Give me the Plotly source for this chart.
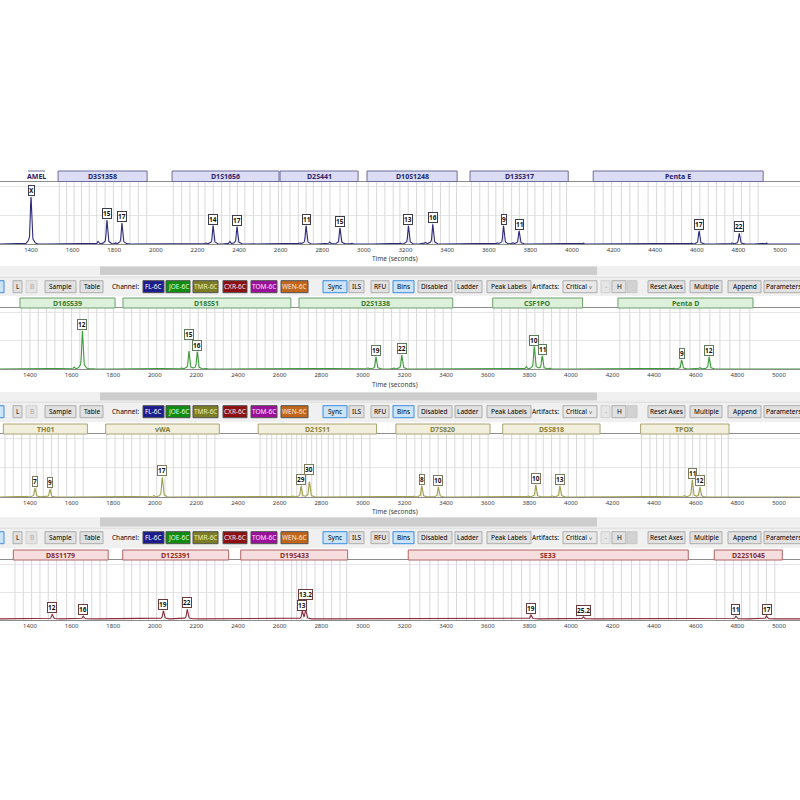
import numpy as np
import plotly.graph_objects as go

W = H = 800
FONT = "Noto Sans"

# ---------------- data ----------------
TICKS = [1400, 1600, 1800, 2000, 2200, 2400, 2600, 2800, 3000, 3200, 3400,
         3600, 3800, 4000, 4200, 4400, 4600, 4800, 5000]

# Panel 1 (FL-6C)
P1_LOCI = ["AMEL", "D3S1358", "D1S1656", "D2S441", "D10S1248", "D13S317", "Penta E"]
P1_LOCUS_START = [1386, 1530, 2078, 2597, 3015, 3510, 4102]
P1_LOCUS_END = [1467, 1958, 2592, 2972, 3448, 3982, 4919]
P1_ALLELES = ["X", "15", "17", "14", "17", "11", "15", "13", "16", "9", "11", "17", "22"]
P1_PEAK_X = [1400, 1765, 1837, 2275, 2390, 2722, 2885, 3214, 3331, 3671, 3746, 4611, 4804]
P1_PEAK_H = [1.63, 0.83, 0.72, 0.64, 0.60, 0.63, 0.55, 0.63, 0.68, 0.63, 0.45, 0.45, 0.37]
P1_MINOR_X = [1722, 1805, 2240, 2355, 2690, 2835, 2940, 3175, 3295, 3640, 3715, 4055, 4575, 4770, 4935]
P1_MINOR_H = [0.09, 0.04, 0.04, 0.09, 0.04, 0.07, 0.04, 0.03, 0.06, 0.04, 0.05, 0.03, 0.03, 0.04, 0.03]
P1_BINS = [1536, 1571, 1607, 1643, 1680, 1716, 1756, 1796, 1836, 1876, 1916, 1956,
           2084, 2124, 2164, 2204, 2236, 2276, 2316, 2356, 2392, 2428, 2469, 2509, 2549, 2589,
           2605, 2645, 2685, 2722, 2757, 2797, 2837, 2885, 2925, 2965,
           3021, 3061, 3101, 3141, 3173, 3213, 3253, 3293, 3330, 3368, 3410, 3445,
           3517, 3557, 3598, 3634, 3670, 3710, 3747, 3787, 3822, 3862, 3902, 3942, 3974,
           4110, 4150, 4190, 4238, 4278, 4318, 4366, 4407, 4447, 4487, 4527, 4575, 4615,
           4655, 4695, 4735, 4775, 4815, 4855, 4895]

# Panel 2 (JOE-6C)
P2_LOCI = ["D16S539", "D18S51", "D2S1338", "CSF1PO", "Penta D"]
P2_LOCUS_START = [1352, 1847, 2693, 3624, 4226]
P2_LOCUS_END = [1809, 2654, 3432, 4056, 4875]
P2_ALLELES = ["12", "15", "16", "19", "22", "10", "11", "9", "12"]
P2_PEAK_X = [1652, 2164, 2204, 3063, 3187, 3824, 3862, 4532, 4664]
P2_PEAK_H = [1.35, 0.63, 0.61, 0.43, 0.49, 0.79, 0.46, 0.32, 0.43]
P2_MINOR_X = [1612, 1700, 2128, 2245, 3025, 3150, 3785, 3900, 4495, 4620]
P2_MINOR_H = [0.07, 0.03, 0.04, 0.03, 0.04, 0.04, 0.08, 0.03, 0.03, 0.05]
P2_BINS = [1360, 1400, 1440, 1480, 1520, 1560, 1600, 1640, 1680, 1721, 1761, 1801,
           1852, 1889, 1929, 1969, 2009, 2049, 2089, 2129, 2169, 2209, 2249, 2289, 2329,
           2369, 2409, 2449, 2490, 2530, 2570, 2610, 2650,
           2698, 2738, 2778, 2818, 2858, 2898, 2938, 2978, 3018, 3058, 3098, 3138, 3178,
           3218, 3258, 3306, 3346, 3386, 3426,
           3630, 3667, 3707, 3747, 3787, 3827, 3867, 3907, 3947, 3987, 4027,
           4235, 4283, 4331, 4380, 4428, 4476, 4524, 4572, 4620, 4668, 4716, 4764, 4812, 4860]

# Panel 3 (TMR-6C)
P3_LOCI = ["TH01", "vWA", "D21S11", "D7S820", "D5S818", "TPOX"]
P3_LOCUS_START = [1272, 1764, 2497, 3159, 3672, 4335]
P3_LOCUS_END = [1676, 2310, 3066, 3611, 4140, 4760]
P3_ALLELES = ["7", "9", "17", "29", "30", "8", "10", "10", "13", "11", "12"]
P3_PEAK_X = [1424, 1496, 2036, 2703, 2743, 3283, 3363, 3831, 3947, 4583, 4620]
P3_PEAK_H = [0.30, 0.26, 0.67, 0.375, 0.52, 0.375, 0.33, 0.41, 0.375, 0.58, 0.33]
P3_MINOR_X = [1385, 1460, 1995, 2665, 3245, 3795, 3910, 4545, 4940]
P3_MINOR_H = [0.03, 0.03, 0.05, 0.04, 0.03, 0.04, 0.04, 0.05, 0.02]
P3_BINS = [1280, 1320, 1360, 1400, 1432, 1464, 1504, 1536, 1576, 1616, 1656,
           1769, 1809, 1849, 1889, 1929, 1969, 2009, 2049, 2089, 2129, 2169, 2209, 2249, 2289,
           2506, 2538, 2562, 2586, 2610, 2634, 2658, 2682, 2706, 2730, 2754, 2778, 2802,
           2834, 2858, 2890, 2922, 2954, 2994, 3034,
           3162, 3210, 3250, 3282, 3322, 3362, 3402, 3442, 3482, 3522, 3562, 3602,
           3675, 3715, 3755, 3795, 3832, 3867, 3907, 3947, 3987, 4027, 4067, 4107,
           4339, 4380, 4412, 4444, 4476, 4516, 4548, 4585, 4620, 4652, 4692, 4724, 4756]

# Panel 4 (CXR-6C)
P4_LOCI = ["D8S1179", "D12S391", "D19S433", "SE33", "D22S1045"]
P4_LOCUS_START = [1320, 1846, 2413, 3218, 4689]
P4_LOCUS_END = [1776, 2355, 2927, 4564, 5016]
P4_ALLELES = ["12", "16", "19", "22", "13", "13.2", "19", "25.2", "11", "17"]
P4_PEAK_X = [1507, 1656, 2041, 2156, 2709, 2725, 3808, 4059, 4793, 4940]
P4_PEAK_H = [0.20, 0.14, 0.33, 0.38, 0.30, 0.36, 0.18, 0.12, 0.14, 0.15]
P4_MINOR_X = [1470, 1620, 2000, 2120, 2670, 3770, 4020, 4760, 4905]
P4_MINOR_H = [0.05, 0.04, 0.05, 0.05, 0.05, 0.04, 0.04, 0.04, 0.04]
P4_BASE = 0.04
P4_BINS = [1328, 1368, 1408, 1448, 1488, 1528, 1576, 1616, 1657, 1697, 1737, 1769,
           1852, 1889, 1929, 1969, 2009, 2049, 2089, 2129, 2169, 2209, 2249, 2289, 2329,
           2417, 2457, 2498, 2538, 2578, 2618, 2658, 2682, 2706, 2730, 2770, 2810, 2850, 2890, 2922,
           3226, 3274, 3322, 3362, 3410, 3450, 3498, 3538, 3587, 3627, 3675, 3715, 3763, 3803,
           3851, 3891, 3939, 3979, 4027, 4067, 4115, 4155, 4203, 4243, 4291, 4331, 4380, 4420,
           4468, 4508, 4556,
           4700, 4740, 4780, 4820, 4860, 4900, 4940, 4980]

YMAX = 2.15

PANELS = [
    dict(loci=P1_LOCI, ls=P1_LOCUS_START, le=P1_LOCUS_END, alle=P1_ALLELES, px=P1_PEAK_X, ph=P1_PEAK_H,
         mx=P1_MINOR_X, mh=P1_MINOR_H, bins=P1_BINS, base=0.0, color="#2b2b7c", fill="#dcdcf4",
         edge="#6c6c9c", tcol="#24246c", lab_edge="#3c3c4c", top=182, bot=244, xr=[1251, 5096],
         hdr=(171, 181.5), time_y=258),
    dict(loci=P2_LOCI, ls=P2_LOCUS_START, le=P2_LOCUS_END, alle=P2_ALLELES, px=P2_PEAK_X, ph=P2_PEAK_H,
         mx=P2_MINOR_X, mh=P2_MINOR_H, bins=P2_BINS, base=0.0, color="#3c9c3c", fill="#dcf0dc",
         edge="#6ca06c", tcol="#2f7a2f", lab_edge="#5c7c5c", top=308, bot=369, xr=[1256, 5101],
         hdr=(298, 308), time_y=385),
    dict(loci=P3_LOCI, ls=P3_LOCUS_START, le=P3_LOCUS_END, alle=P3_ALLELES, px=P3_PEAK_X, ph=P3_PEAK_H,
         mx=P3_MINOR_X, mh=P3_MINOR_H, bins=P3_BINS, base=0.0, color="#a0a04c", fill="#f2efdc",
         edge="#aaa274", tcol="#86803c", lab_edge="#7c7c5c", top=434, bot=497, xr=[1256, 5101],
         hdr=(424, 434), time_y=511),
    dict(loci=P4_LOCI, ls=P4_LOCUS_START, le=P4_LOCUS_END, alle=P4_ALLELES, px=P4_PEAK_X, ph=P4_PEAK_H,
         mx=P4_MINOR_X, mh=P4_MINOR_H, bins=P4_BINS, base=P4_BASE, color="#8c2c3c", fill="#f6dede",
         edge="#b06464", tcol="#8a2a2a", lab_edge="#6c3c3c", top=560, bot=620, xr=[1256, 5101],
         hdr=(550, 560), time_y=None),
]

# label lifts (style): (panel index, allele index) -> pixels
LIFT = {(1, 1): 10, (2, 4): 6, (3, 5): 9}

# toolbar layout (style)
TOOLBAR_Y = [(277, 296), (402, 422), (528, 548)]
SCROLL_Y = [(266, 275.5), (392, 401), (517, 527)]
BTNS = [(-3, 4, "", "blue"), (13, 22, "L", "n"), (26, 37, "B", "dis"), (45, 76, "Sample", "n"),
        (80, 103, "Table", "n"),
        (143, 164, "FL-6C", ("#1c1c8c", "#ffffff")), (166, 190, "JOE-6C", ("#108c10", "#e4ffe4")),
        (193, 218, "TMR-6C", ("#7c7c24", "#ececbc")), (223, 247, "CXR-6C", ("#8c1010", "#ffe4e4")),
        (251, 277, "TOM-6C", ("#9a109a", "#ffe4ff")), (281, 308, "WEN-6C", ("#c0661c", "#ffecd8")),
        (323, 347, "Sync", "blue"), (349, 364, "ILS", "n"), (371, 389, "RFU", "n"), (393, 414, "Bins", "blue"),
        (418, 452, "Disabled", "n"), (455, 482, "Ladder", "n"), (487, 531, "Peak Labels", "n"),
        (563, 597, "Critical", "dd"), (601, 610, "-", "small"), (612, 626, "H", "n"), (627, 637, "", "dis2"),
        (648, 685, "Reset Axes", "n"), (690, 722, "Multiple", "n"), (728, 761, "Append", "n"),
        (764, 803, "Parameters", "n")]


def px2x(p):
    return p / W


def px2y(p):
    return 1 - p / H


shapes = []
annots = []


def rect(x0, x1, y0, y1, fill, line=None, lw=1, xref="paper"):
    shapes.append(dict(type="rect", xref=xref, yref="paper",
                       x0=px2x(x0) if xref == "paper" else x0,
                       x1=px2x(x1) if xref == "paper" else x1,
                       y0=px2y(y1), y1=px2y(y0), fillcolor=fill,
                       line=dict(color=line if line else fill, width=lw if line else 0)))


def text(x, y, s, size=6.5, color="#000000", bold=False, xanchor="center", xref="paper"):
    annots.append(dict(xref=xref, yref="paper", x=px2x(x) if xref == "paper" else x, y=px2y(y),
                       text=f"<b>{s}</b>" if bold else s, showarrow=False,
                       font=dict(family=FONT, size=size, color=color),
                       xanchor=xanchor, yanchor="middle"))


fig = go.Figure()
layout_axes = {}

for i, P in enumerate(PANELS):
    n = i + 1
    xa = "x" if n == 1 else f"x{n}"
    ya = "y" if n == 1 else f"y{n}"
    # bins
    bx, by = [], []
    for b in P["bins"]:
        bx += [b, b, None]
        by += [0, YMAX, None]
    fig.add_trace(go.Scatter(x=bx, y=by, mode="lines", line=dict(color="#d9d9d9", width=1),
                             xaxis=xa, yaxis=ya, hoverinfo="skip", showlegend=False))
    # electropherogram trace
    xg = np.arange(P["xr"][0], P["xr"][1] + 1, 1.0)
    yg = np.full_like(xg, P["base"])
    for x0, h in zip(list(P["px"]) + list(P["mx"]), list(P["ph"]) + list(P["mh"])):
        amp = h - P["base"]
        yg += amp * (0.85 * np.exp(-0.5 * ((xg - x0) / 3.0) ** 2) + 0.15 * np.exp(-0.5 * ((xg - x0) / 11.0) ** 2))
    fig.add_trace(go.Scatter(x=xg, y=yg, mode="lines", line=dict(color=P["color"], width=1.1),
                             xaxis=xa, yaxis=ya, hoverinfo="skip", showlegend=False))
    # peak labels
    for j, (lab, x0, h) in enumerate(zip(P["alle"], P["px"], P["ph"])):
        lift = LIFT.get((i, j), 0)
        annots.append(dict(xref=xa, yref=ya, x=x0, y=h, text=f"<b>{lab}</b>", showarrow=False,
                           xanchor="center", yanchor="bottom", yshift=1 + lift,
                           font=dict(family=FONT, size=6.5, color="#111111"),
                           bgcolor="#ffffff", bordercolor=P["lab_edge"], borderwidth=1, borderpad=0))
    # locus header boxes
    h0, h1 = P["hdr"]
    for name, s, e in zip(P["loci"], P["ls"], P["le"]):
        if name == "AMEL":
            shapes.append(dict(type="line", xref=xa, yref="paper", x0=s, x1=e, y0=px2y(h0), y1=px2y(h0),
                               line=dict(color=P["edge"], width=1)))
        else:
            rect(s, e, h0, h1, P["fill"], P["edge"], 1, xref=xa)
        text((s + e) / 2, (h0 + h1) / 2 + 0.3, name, size=7, color=P["tcol"], bold=True, xref=xa)
    # axes
    kx = "xaxis" if n == 1 else f"xaxis{n}"
    ky = "yaxis" if n == 1 else f"yaxis{n}"
    layout_axes[kx] = dict(domain=[0, 1], range=P["xr"], anchor=ya, tickvals=TICKS,
                           ticktext=[str(t) for t in TICKS], showgrid=False, zeroline=False,
                           showline=True, mirror=True, linecolor="#8c8c8c", linewidth=1, ticks="",
                           tickfont=dict(family=FONT, size=6, color="#404040"))
    layout_axes[ky] = dict(domain=[px2y(P["bot"]), px2y(P["top"])], range=[0, YMAX], anchor=xa,
                           showticklabels=False, showgrid=True, gridcolor="#e6e6e6", dtick=1,
                           zeroline=False, showline=False)
    if P["time_y"]:
        text(395, P["time_y"], "Time (seconds)", size=6.5, color="#404040")

# scrollbars
for (s0, s1) in SCROLL_Y:
    rect(-1, 801, s0, s1, "#f0f0f0")
    rect(100, 597, s0 + 0.5, s1 - 0.5, "#cdcdcd")

# toolbars
for (t0, t1) in TOOLBAR_Y:
    rect(-1, 801, t0, t1, "#f0f0f0")
    shapes.append(dict(type="line", xref="paper", yref="paper", x0=0, x1=1, y0=px2y(t0), y1=px2y(t0),
                       line=dict(color="#d4d4d4", width=1)))
    b0, b1 = t0 + 3.7, t0 + 15.7
    bc = (b0 + b1) / 2
    for (x0, x1, lab, kind) in BTNS:
        if kind == "blue":
            rect(x0, x1, b0, b1, "#cce4f7", "#3c8ce0")
            tc = "#000000"
        elif kind == "dis":
            rect(x0, x1, b0, b1, "#e4e4e4", "#d0d0d0")
            tc = "#a8a8a8"
        elif kind == "dis2":
            rect(x0, x1, b0, b1, "#d2d2d2", "#c8c8c8")
            tc = "#a8a8a8"
        elif kind == "small":
            rect(x0, x1, b0, b1, "#e6e6e6", "#cfcfcf")
            tc = "#9a9a9a"
        elif kind == "dd":
            rect(x0, x1, b0, b1, "#e8e8e8", "#adadad")
            tc = "#000000"
        elif isinstance(kind, tuple):
            rect(x0, x1, b0, b1, kind[0], "#505050")
            tc = kind[1]
        else:
            rect(x0, x1, b0, b1, "#e1e1e1", "#adadad")
            tc = "#000000"
        if lab:
            if kind == "dd":
                text(x0 + 13, bc, lab, color=tc)
                text(x1 - 6, bc, "v", size=6, color="#707070")
            else:
                text((x0 + x1) / 2, bc, lab, color=tc)
    text(141, bc, "Channel:", xanchor="right")
    text(561, bc, "Artifacts:", xanchor="right")

fig.update_layout(width=W, height=H, margin=dict(l=0, r=0, t=0, b=0),
                  paper_bgcolor="#ffffff", plot_bgcolor="#ffffff", showlegend=False,
                  shapes=shapes, annotations=annots, **layout_axes)

fig.write_html("out.html", config={"displayModeBar": False},
               post_script="document.body.style.margin='0';document.body.style.overflow='hidden';")
